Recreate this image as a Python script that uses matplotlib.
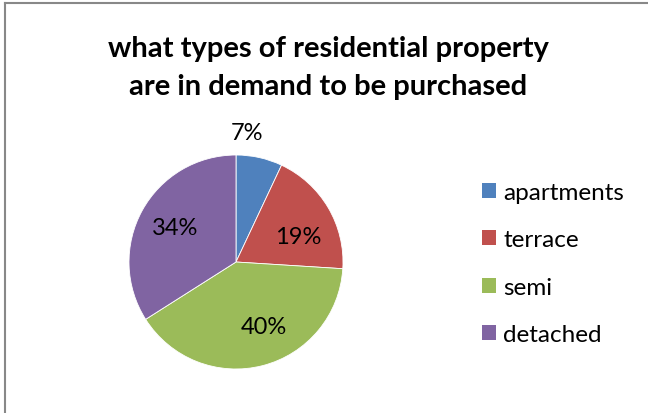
import matplotlib
matplotlib.use("Agg")
import matplotlib.pyplot as plt
from matplotlib.lines import Line2D
from matplotlib.patches import Patch

categories = ["apartments", "terrace", "semi", "detached"]
shares = [7, 19, 40, 34]
colors = ["#4F81BD", "#C0504D", "#9BBB59", "#8064A2"]
title = "what types of residential property\nare in demand to be purchased"

# where each percentage label sits, in pie units (x, y)
label_pos = [(0.10, 1.21), (0.58, 0.24), (0.26, -0.60), (-0.57, 0.32)]

W, H = 648, 414
fig = plt.figure(figsize=(W / 100, H / 100), dpi=100)
fig.patch.set_facecolor("white")

# chart frame: top and left edges fall inside the canvas
frame = dict(color="#888888", linewidth=1.5, transform=fig.transFigure)
fig.lines.append(Line2D([5 / W, 1.0], [1 - 4 / H, 1 - 4 / H], **frame))
fig.lines.append(Line2D([5 / W, 5 / W], [0, 1 - 4 / H], **frame))

font = "Lato"
fig.text(328 / W, 1 - 68 / H, title, ha="center", va="center",
         fontsize=21, fontweight="bold", family=font, linespacing=1.6)

cx, cy, r = 236, 263, 107
ax = fig.add_axes([(cx - r) / W, (H - cy - r) / H, 2 * r / W, 2 * r / H])
wedges, _ = ax.pie(shares, colors=colors, startangle=90, counterclock=False,
                   radius=1, wedgeprops=dict(edgecolor="white", linewidth=0.6))
ax.set_xlim(-1, 1)
ax.set_ylim(-1, 1)
ax.set_aspect("equal")
ax.axis("off")

for v, (x, y) in zip(shares, label_pos):
    ax.text(x, y, f"{v}%", ha="center", va="center", fontsize=17,
            family=font, color="black", clip_on=False)

handles = [Patch(facecolor=c, edgecolor="none") for c in colors]
fig.legend(handles, categories, loc="upper left",
           bbox_to_anchor=(460 / W, 1 - 161 / H), frameon=False,
           prop=dict(family=font, size=17.5), handlelength=0.58,
           handleheight=0.58, handletextpad=0.3, labelspacing=1.09)

fig.savefig("out.png", dpi=100)
